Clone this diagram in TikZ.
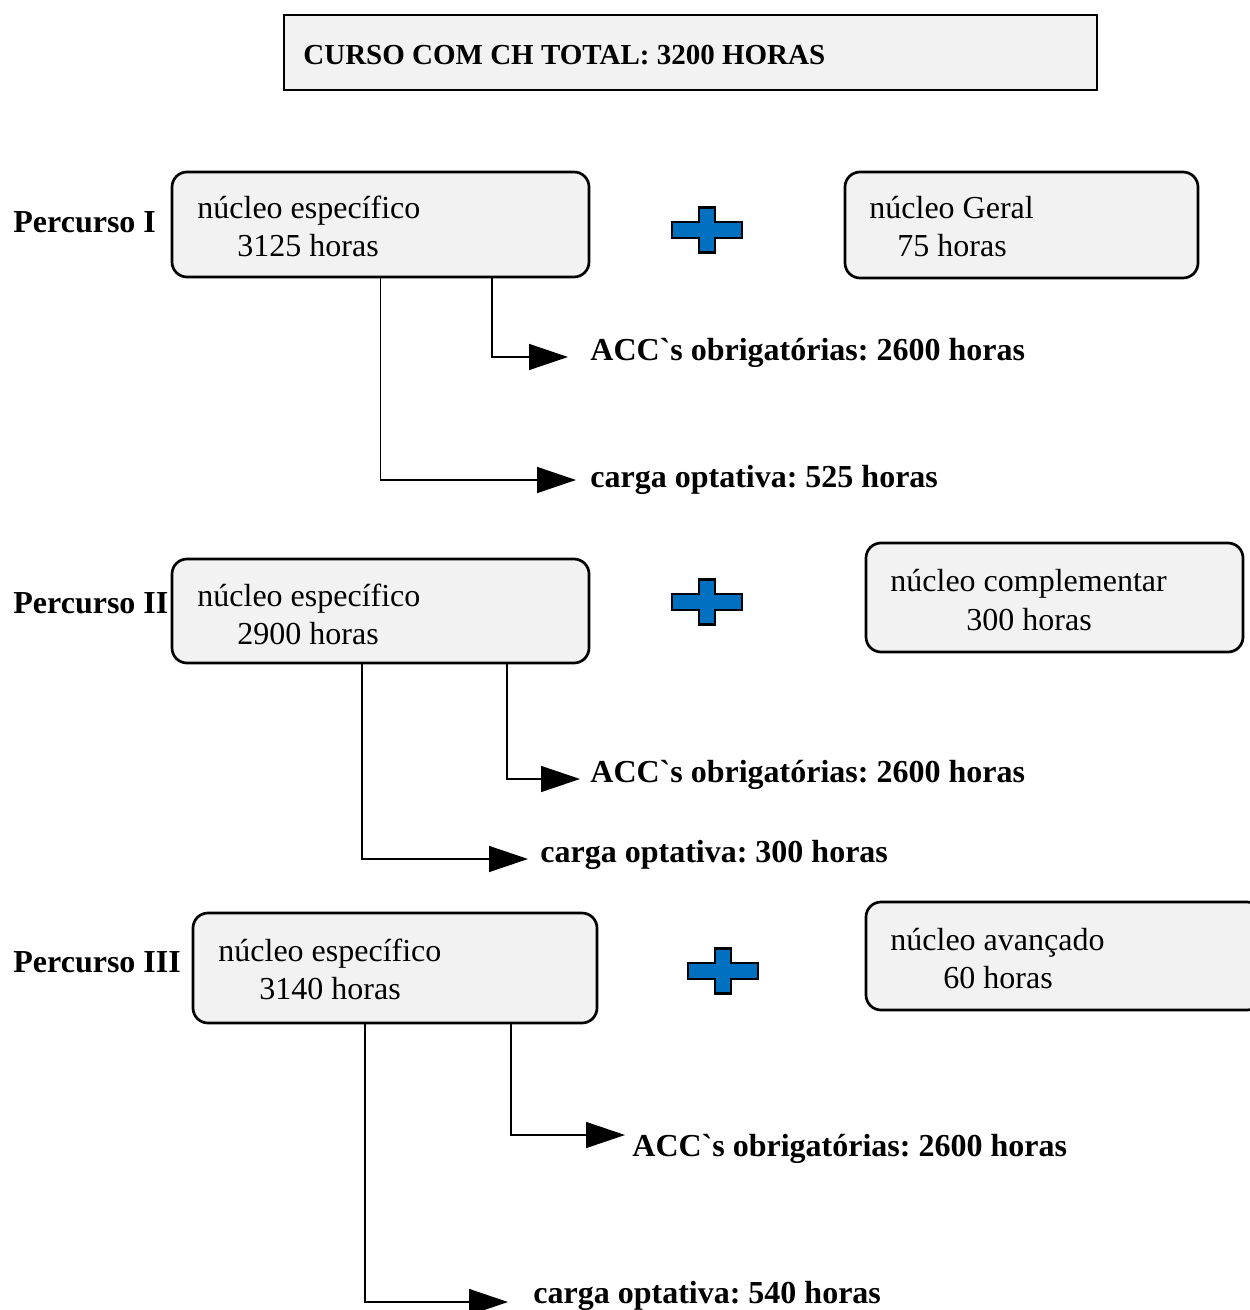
\documentclass[tikz,border=0pt]{standalone}
\usepackage{fontspec}
\setmainfont{Liberation Serif}
\newfontfamily\crua{Liberation Serif}
\usetikzlibrary{arrows.meta}
\frenchspacing

\definecolor{cinza}{RGB}{242,242,242}
\definecolor{azul}{RGB}{0,112,192}

\newcommand{\acento}{{\crua\bfseries `}}

\tikzset{
  caixa/.style={draw, line width=1.35pt, fill=cinza, rounded corners=7.5pt, inner sep=0pt},
  titulo/.style={draw, line width=1.35pt, fill=cinza, inner sep=0pt},
  texto/.style={anchor=west, inner sep=0pt, font=\fontsize{16}{19}\selectfont},
  rotulo/.style={anchor=west, inner sep=0pt, font=\fontsize{16}{19}\selectfont\bfseries},
  seta/.style={line width=0.75pt, -{Triangle[length=19.5pt,width=13pt]}},
  mais/.pic={
    \draw[line width=1.35pt, fill=azul] (-35,-8) -- (-8,-8) -- (-8,-22.5) -- (8,-22.5) -- (8,-8) -- (35,-8)
      -- (35,8) -- (8,8) -- (8,22.5) -- (-8,22.5) -- (-8,8) -- (-35,8) -- cycle;
  }
}

\begin{document}
\begin{tikzpicture}[x=0.5pt,y=-0.5pt]
    \useasboundingbox (0,0) rectangle (1249,1310);

    % title
    \node[titulo, minimum width=406.5pt, minimum height=37.5pt] (total) at (690.5,52.5) {};
    \node[anchor=west, inner sep=0pt, font=\fontsize{14.5}{17}\selectfont\bfseries] (totaltxt) at (303,55) {CURSO COM CH TOTAL: 3200 HORAS};

    % Percurso I
    \node[rotulo] (perc1) at (13,222) {Percurso I};
    \node[caixa, minimum width=208.5pt, minimum height=52.5pt] (esp1) at (380.5,224.5) {};
    \node[texto] (esp1a) at (197,211) {núcleo específico};
    \node[texto] (esp1b) at (237,246) {3125 horas};
    \pic at (707,230) {mais};
    \node[caixa, minimum width=176.5pt, minimum height=53pt] (ger1) at (1021.5,225) {};
    \node[texto] (ger1a) at (869,208) {núcleo Geral};
    \node[texto] (ger1b) at (897,246) {75 horas};
    \node[rotulo] (acc1) at (590,353) {ACC\acento s obrigatórias: 2600 horas};
    \node[rotulo] (opt1) at (590,480) {carga optativa: 525 horas};
    \draw[seta] ([xshift=55.75pt]esp1.south) |- ([xshift=-11pt,yshift=-2pt]acc1.west);
    \draw[seta] (esp1.south) |- ([xshift=-7pt]opt1.west);

    % Percurso II
    \node[rotulo] (perc2) at (13,603) {Percurso II};
    \node[caixa, minimum width=208.5pt, minimum height=52pt] (esp2) at (380.5,611) {};
    \node[texto] (esp2a) at (197,599) {núcleo específico};
    \node[texto] (esp2b) at (237,634) {2900 horas};
    \pic at (707,602) {mais};
    \node[caixa, minimum width=188.5pt, minimum height=54.5pt] (comp2) at (1054.5,597.5) {};
    \node[texto] (comp2a) at (890,584) {núcleo complementar};
    \node[texto] (comp2b) at (966,620) {300 horas};
    \node[rotulo] (acc2) at (590,775) {ACC\acento s obrigatórias: 2600 horas};
    \node[rotulo] (opt2) at (540,855) {carga optativa: 300 horas};
    \draw[seta] ([xshift=63.25pt]esp2.south) |- ([xshift=-5pt,yshift=-2pt]acc2.west);
    \draw[seta] ([xshift=-9.25pt]esp2.south) |- ([xshift=-6pt,yshift=-2pt]opt2.west);

    % Percurso III
    \node[rotulo] (perc3) at (13,962) {Percurso III};
    \node[caixa, minimum width=202pt, minimum height=55pt] (esp3) at (395,968) {};
    \node[texto] (esp3a) at (218,954) {núcleo específico};
    \node[texto] (esp3b) at (259,989) {3140 horas};
    \pic at (723,971) {mais};
    \node[caixa, minimum width=198pt, minimum height=54pt] (av3) at (1064,956) {};
    \node[texto] (av3a) at (890,943) {núcleo avançado};
    \node[texto] (av3b) at (943,978) {60 horas};
    \node[rotulo] (acc3) at (632,1149) {ACC\acento s obrigatórias: 2600 horas};
    \node[rotulo] (opt3) at (533,1296) {carga optativa: 540 horas};
    \draw[seta] ([xshift=58pt]esp3.south) |- ([xshift=-3.5pt,yshift=7pt]acc3.west);
    \draw[seta] ([xshift=-15pt]esp3.south) |- ([xshift=-12.5pt,yshift=-3pt]opt3.west);
\end{tikzpicture}
\end{document}
